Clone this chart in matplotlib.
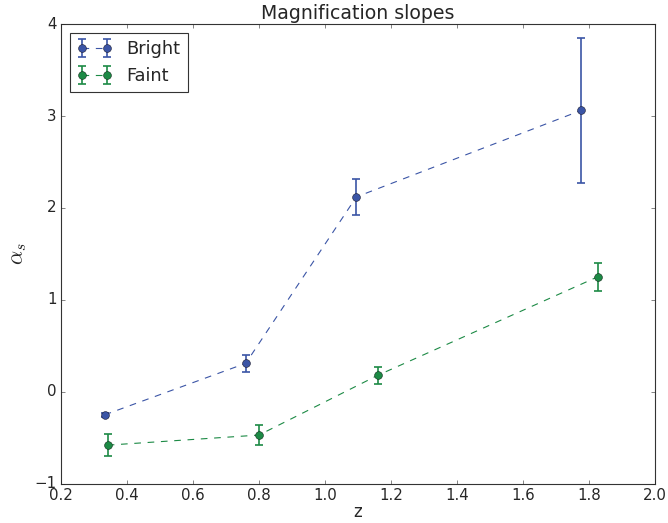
import matplotlib
matplotlib.use("Agg")
import matplotlib.pyplot as plt

# data
z_bright = [0.333, 0.76, 1.095, 1.775]
alpha_bright = [-0.25, 0.31, 2.12, 3.06]
err_bright = [0.02, 0.09, 0.2, 0.79]

z_faint = [0.342, 0.80, 1.16, 1.825]
alpha_faint = [-0.58, -0.47, 0.18, 1.25]
err_faint = [0.12, 0.11, 0.09, 0.15]

plt.style.use("classic")
plt.rcParams["text.color"] = "#262626"
plt.rcParams["axes.labelcolor"] = "#262626"
plt.rcParams["xtick.color"] = "#262626"
plt.rcParams["ytick.color"] = "#262626"
plt.rcParams["axes.edgecolor"] = "#333333"

fig = plt.figure(figsize=(668 / 80, 523 / 80), dpi=80)
ax = fig.add_subplot(111)
fig.subplots_adjust(left=0.091, right=0.981, top=0.954, bottom=0.075)

blue = "#3b55a6"
green = "#1c8a45"

ax.errorbar(z_bright, alpha_bright, yerr=err_bright, fmt="o--", color=blue,
            mfc=blue, mec="#1a1a2e", ms=7, lw=1, elinewidth=1.5, capsize=3.5,
            capthick=1.5, label="Bright")
ax.errorbar(z_faint, alpha_faint, yerr=err_faint, fmt="o--", color=green,
            mfc=green, mec="#102a18", ms=7, lw=1, elinewidth=1.5, capsize=3.5,
            capthick=1.5, label="Faint")

ax.set_xlim(0.2, 2.0)
ax.set_ylim(-1, 4)
ax.set_title("Magnification slopes", fontsize=17)
ax.set_xlabel("z", fontsize=15, labelpad=0)
ax.set_ylabel(r"$\alpha_s$", fontsize=20)
ax.tick_params(labelsize=13.5)

ax.legend(loc="upper left", numpoints=2, fontsize=16)

fig.savefig("out.png", dpi=80)
